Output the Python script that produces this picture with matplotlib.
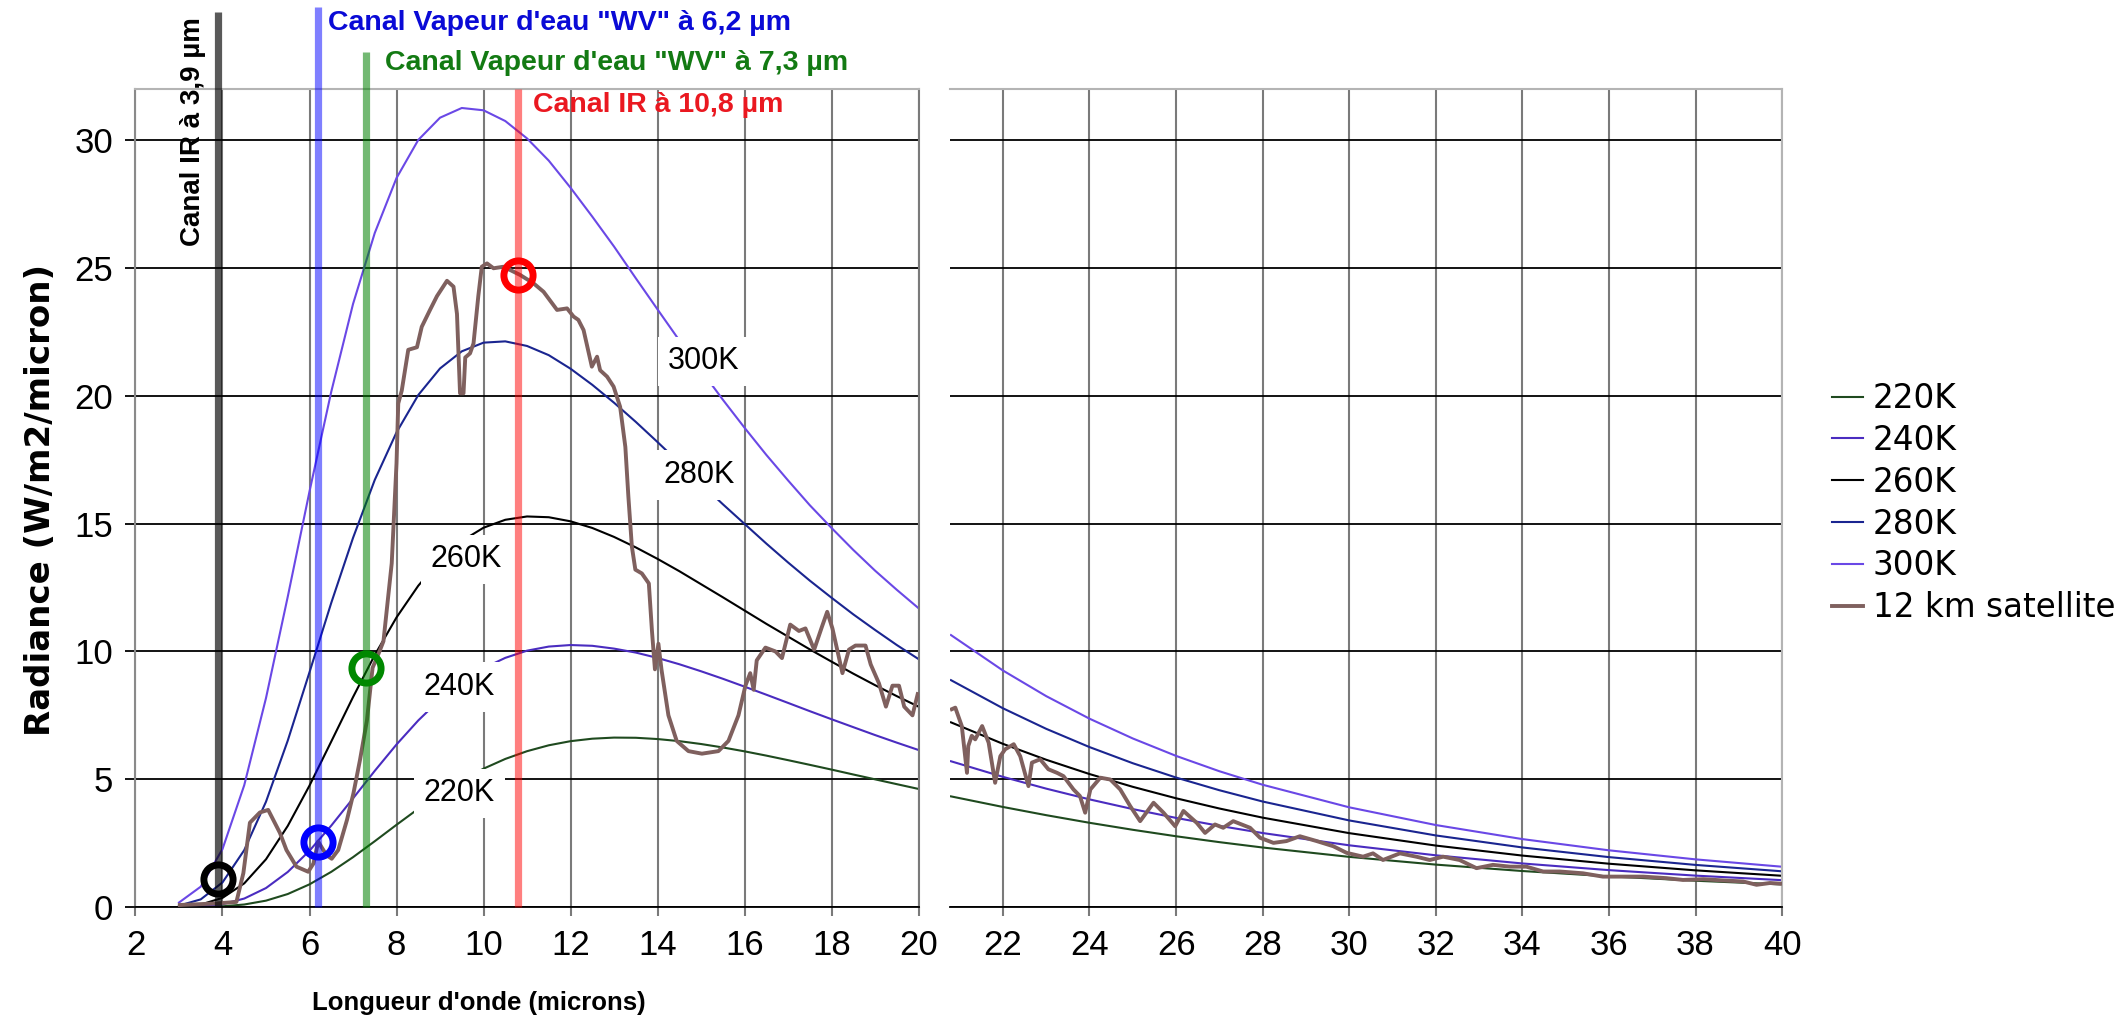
import matplotlib.pyplot as plt

# Wavelength grids (microns) of the blackbody curves, left and right panels
wl_left = [3.0, 3.5, 4.0, 4.5, 5.0, 5.5, 6.0, 6.5, 7.0, 7.5, 8.0, 8.5, 9.0, 9.5,
           10.0, 10.5, 11.0, 11.5, 12.0, 12.5, 13.0, 13.5, 14.0, 14.5, 15.0, 15.5,
           16.0, 16.5, 17.0, 17.5, 18.0, 18.5, 19.0, 19.5, 20.0]
wl_right = [20.8, 22, 23, 24, 25, 26, 27, 28, 30, 32, 34, 36, 38, 40]

# Radiance (W/m2/micron) for each temperature
k220_left = [0.001, 0.005, 0.029, 0.099, 0.250, 0.509, 0.888, 1.377, 1.950, 2.575,
             3.217, 3.843, 4.429, 4.956, 5.413, 5.794, 6.097, 6.328, 6.489, 6.586,
             6.629, 6.622, 6.572, 6.490, 6.378, 6.243, 6.091, 5.924, 5.746, 5.563,
             5.377, 5.185, 4.996, 4.807, 4.620]
k240_left = [0.003, 0.026, 0.113, 0.332, 0.743, 1.372, 2.203, 3.185, 4.250, 5.328,
             6.359, 7.300, 8.120, 8.803, 9.345, 9.748, 10.03, 10.19, 10.25, 10.22,
             10.11, 9.955, 9.745, 9.499, 9.224, 8.931, 8.622, 8.307, 7.986, 7.663,
             7.347, 7.037, 6.728, 6.431, 6.143]
k260_left = [0.015, 0.097, 0.359, 0.926, 1.869, 3.174, 4.752, 6.475, 8.212, 9.859,
             11.33, 12.57, 13.57, 14.32, 14.84, 15.15, 15.28, 15.25, 15.09, 14.83,
             14.48, 14.07, 13.62, 13.14, 12.63, 12.12, 11.60, 11.08, 10.58, 10.08,
             9.60, 9.13, 8.68, 8.25, 7.84]
k280_left = [0.056, 0.300, 0.963, 2.227, 4.121, 6.511, 9.187, 11.90, 14.44, 16.71,
             18.57, 20.03, 21.07, 21.74, 22.08, 22.13, 21.95, 21.59, 21.06, 20.43,
             19.73, 18.98, 18.19, 17.38, 16.56, 15.76, 14.99, 14.22, 13.48, 12.77,
             12.10, 11.45, 10.84, 10.25, 9.70]
k300_left = [0.176, 0.797, 2.268, 4.768, 8.176, 12.14, 16.26, 20.16, 23.59, 26.37,
             28.52, 30.01, 30.88, 31.26, 31.17, 30.75, 30.07, 29.20, 28.14, 27.01,
             25.84, 24.60, 23.38, 22.17, 21.00, 19.85, 18.75, 17.69, 16.69, 15.72,
             14.83, 13.97, 13.16, 12.41, 11.69]

k220_right = [4.329, 3.915, 3.594, 3.296, 3.022, 2.769, 2.539, 2.329, 1.963, 1.660, 1.409, 1.201, 1.029, 0.885]
k240_right = [5.703, 5.093, 4.632, 4.212, 3.832, 3.487, 3.176, 2.895, 2.415, 2.024, 1.705, 1.444, 1.229, 1.051]
k260_right = [7.225, 6.385, 5.762, 5.203, 4.703, 4.255, 3.855, 3.497, 2.891, 2.405, 2.013, 1.695, 1.435, 1.223]
k280_right = [8.876, 7.776, 6.972, 6.258, 5.626, 5.066, 4.570, 4.128, 3.388, 2.801, 2.331, 1.953, 1.648, 1.398]
k300_right = [10.64, 9.254, 8.251, 7.369, 6.595, 5.913, 5.313, 4.784, 3.901, 3.208, 2.658, 2.219, 1.865, 1.577]

# Spectrum measured by the satellite at 12 km
sat_left_x = [3.02, 3.86, 4.32, 4.48, 4.63, 4.86, 5.05, 5.32, 5.47, 5.70,
              5.97, 6.09, 6.20, 6.39, 6.51, 6.66, 6.86, 7.01, 7.16, 7.32,
              7.45, 7.62, 7.70, 7.89, 8.00, 8.04, 8.12, 8.27, 8.47, 8.58,
              8.77, 8.93, 9.16, 9.31, 9.39, 9.46, 9.54, 9.58, 9.69, 9.77,
              9.88, 9.96, 10.08, 10.23, 10.46, 10.84, 11.15, 11.38, 11.69, 11.92,
              12.07, 12.18, 12.30, 12.49, 12.61, 12.68, 12.84, 12.99, 13.14, 13.26,
              13.33, 13.41, 13.49, 13.64, 13.80, 13.87, 13.94, 14.02, 14.09, 14.25,
              14.44, 14.71, 15.02, 15.40, 15.63, 15.86, 16.02, 16.13, 16.21, 16.28,
              16.48, 16.71, 16.86, 17.05, 17.25, 17.40, 17.60, 17.78, 17.90, 18.02,
              18.25, 18.40, 18.55, 18.78, 18.90, 19.09, 19.25, 19.40, 19.55, 19.67,
              19.86, 19.98]
sat_left_y = [0.08, 0.14, 0.20, 1.33, 3.30, 3.70, 3.80, 2.90, 2.23, 1.58,
              1.38, 1.70, 2.56, 2.03, 1.89, 2.23, 3.40, 4.45, 5.75, 7.30,
              9.36, 10.05, 10.40, 13.45, 17.36, 19.70, 20.20, 21.80, 21.90, 22.70,
              23.36, 23.90, 24.50, 24.27, 23.20, 20.10, 20.10, 21.50, 21.66, 22.05,
              23.90, 25.05, 25.18, 24.99, 25.05, 24.73, 24.40, 24.07, 23.36, 23.42,
              23.10, 22.97, 22.57, 21.14, 21.53, 21.00, 20.75, 20.36, 19.57, 18.00,
              16.05, 14.10, 13.20, 13.05, 12.66, 10.84, 9.30, 10.30, 9.30, 7.50,
              6.50, 6.10, 6.00, 6.10, 6.50, 7.50, 8.66, 9.15, 8.50, 9.65,
              10.15, 10.00, 9.74, 11.05, 10.80, 10.90, 10.07, 10.97, 11.55, 10.90,
              9.15, 10.07, 10.23, 10.23, 9.49, 8.75, 7.84, 8.66, 8.66, 7.84,
              7.50, 8.33]
sat_right_x = [20.82, 20.90, 21.05, 21.17, 21.20, 21.28, 21.36, 21.52, 21.67, 21.82,
               21.94, 22.05, 22.25, 22.40, 22.59, 22.67, 22.86, 23.05, 23.25, 23.40,
               23.63, 23.78, 23.90, 24.02, 24.25, 24.48, 24.71, 24.94, 25.17, 25.48,
               25.71, 25.98, 26.17, 26.48, 26.67, 26.90, 27.09, 27.32, 27.71, 27.94,
               28.25, 28.55, 28.86, 29.25, 29.63, 29.94, 30.32, 30.55, 30.78, 31.17,
               31.55, 31.86, 32.17, 32.55, 32.94, 33.32, 33.71, 34.09, 34.48, 34.86,
               35.40, 35.86, 36.33, 36.79, 37.33, 37.71, 38.18, 38.64, 39.10, 39.41,
               39.72, 40.00]
sat_right_y = [7.74, 7.80, 7.08, 5.25, 6.30, 6.70, 6.56, 7.08, 6.43, 4.86,
               5.90, 6.17, 6.37, 5.90, 4.73, 5.65, 5.78, 5.39, 5.25, 5.12,
               4.60, 4.34, 3.69, 4.60, 5.06, 4.99, 4.60, 3.95, 3.36, 4.08,
               3.69, 3.16, 3.76, 3.29, 2.90, 3.23, 3.10, 3.36, 3.10, 2.71,
               2.51, 2.58, 2.77, 2.58, 2.38, 2.12, 1.97, 2.10, 1.84, 2.10,
               1.97, 1.84, 1.97, 1.84, 1.52, 1.65, 1.58, 1.58, 1.39, 1.39,
               1.32, 1.19, 1.19, 1.19, 1.13, 1.06, 1.09, 1.04, 1.00, 0.87,
               0.94, 0.91]

# Satellite channels: wavelength, radiance marked on the spectrum, label
chan_wl = [3.9, 6.2, 7.3, 10.8]
chan_rad = [1.08, 2.55, 9.36, 24.73]
chan_names = ['Canal IR à 3,9 µm', 'Canal Vapeur d\'eau "WV" à 6,2 µm',
              'Canal Vapeur d\'eau "WV" à 7,3 µm', 'Canal IR à 10,8 µm']

temps = ['220K', '240K', '260K', '280K', '300K']
curve_cols = ['#1f4a1f', '#4a2cc0', '#000000', '#1a2590', '#6a48e6']
sat_col = '#7f605e'

ARIAL = 'Liberation Sans'

fig = plt.figure(figsize=(21.17, 10.18), dpi=100)
ax1 = fig.add_axes([0.0640, 0.1090, 0.3699, 0.8035])
ax2 = fig.add_axes([0.4488, 0.1090, 0.3930, 0.8035])

left_sets = [k220_left, k240_left, k260_left, k280_left, k300_left]
right_sets = [k220_right, k240_right, k260_right, k280_right, k300_right]
handles = []
for t, c, yl, yr in zip(temps, curve_cols, left_sets, right_sets):
    h, = ax1.plot(wl_left, yl, color=c, lw=1.5, zorder=2, label=t)
    ax2.plot(wl_right, yr, color=c, lw=1.5, zorder=2)
    handles.append(h)
h, = ax1.plot(sat_left_x, sat_left_y, color=sat_col, lw=2.8, zorder=3, label='12 km satellite')
ax2.plot(sat_right_x, sat_right_y, color=sat_col, lw=2.8, zorder=3)
handles.append(h)

for ax, lo, ticks in [(ax1, 2, range(2, 21, 2)), (ax2, 20.78, range(22, 41, 2))]:
    ax.set_xlim(lo, ticks[-1])
    ax.set_ylim(0, 32)
    ax.set_xticks(list(ticks))
    ax.set_yticks(range(0, 31, 5))
    ax.set_axisbelow(True)
    ax.grid(axis='x', color='#7a7a7a', lw=1.5)
    ax.grid(axis='y', color='black', lw=1.3)
    ax.tick_params(axis='x', direction='out', length=6.5, width=1.5, color='#7a7a7a',
                   pad=9, labelsize=25)
    ax.tick_params(axis='y', direction='out', length=7, width=1.3, color='black',
                   pad=9, labelsize=25)
    for lab in ax.get_xticklabels() + ax.get_yticklabels():
        lab.set_family(ARIAL)
    ax.spines['bottom'].set_color('black')
    ax.spines['bottom'].set_linewidth(1.3)
    for s in ['top', 'right']:
        ax.spines[s].set_color('#b4b4b4')
        ax.spines[s].set_linewidth(1.5)
ax1.spines['left'].set_color('#8a8a8a')
ax1.spines['left'].set_linewidth(1.5)
ax1.spines['right'].set_color('#7a7a7a')
ax2.spines['left'].set_visible(False)
ax2.tick_params(axis='y', length=0, labelleft=False)

# channel markers drawn above the curves, running up past the plot frame
chan_cols = ['#000000', '#0000ff', '#008000', '#ff0000']
chan_alpha = [0.65, 0.5, 0.55, 0.5]
chan_top = [35.0, 35.2, 33.45, 32.0]
for x, top, c, a in zip(chan_wl, chan_top, chan_cols, chan_alpha):
    ax1.plot([x, x], [0, top], color=c, alpha=a, lw=5.2, solid_capstyle='butt',
             clip_on=False, zorder=4)
ring_cols = ['#000000', '#0000ff', '#008800', '#ff0000']
for x, y, c in zip(chan_wl, chan_rad, ring_cols):
    ax1.plot(x, y, 'o', ms=21, mfc='none', mec=c, mew=5, zorder=5, clip_on=False)

ax1.text(3.33, 34.8, chan_names[0], rotation=90, ha='center', va='top',
         fontsize=20, fontweight='bold', family=ARIAL, color='black', clip_on=False)
ax1.text(6.43, 34.58, chan_names[1], ha='left', va='center', fontsize=20.5,
         fontweight='bold', family=ARIAL, color='#0a0ad6', clip_on=False)
ax1.text(7.73, 33.02, chan_names[2], ha='left', va='center', fontsize=20.5,
         fontweight='bold', family=ARIAL, color='#137a13', clip_on=False)
ax1.text(11.14, 31.38, chan_names[3], ha='left', va='center', fontsize=20.5,
         fontweight='bold', family=ARIAL, color='#ea1820', clip_on=False)

# temperature labels on white boxes, masking the lines behind them
box = dict(facecolor='white', edgecolor='none', pad=7)
for txt, x, y in [('300K', 15.05, 21.35), ('280K', 14.95, 16.9), ('260K', 9.6, 13.6),
                  ('240K', 9.45, 8.6), ('220K', 9.45, 4.45)]:
    ax1.text(x, y, txt, ha='center', va='center', fontsize=22, family=ARIAL,
             bbox=box, zorder=6)

fig.text(0.0189, 0.509, 'Radiance (W/m2/micron)', rotation=90, ha='center',
         va='center', fontsize=24.5, fontweight='bold')
fig.text(0.2263, 0.0147, "Longueur d'onde (microns)", ha='center', va='center',
         fontsize=18.5, fontweight='bold', family=ARIAL)

fig.legend(handles=handles, loc='center left', bbox_to_anchor=(0.8654, 0.5058),
           frameon=False, fontsize=23.5, handlelength=0.95, handletextpad=0.3,
           labelspacing=0.27, borderpad=0, borderaxespad=0)

fig.savefig('out.png', dpi=100, facecolor='white')
